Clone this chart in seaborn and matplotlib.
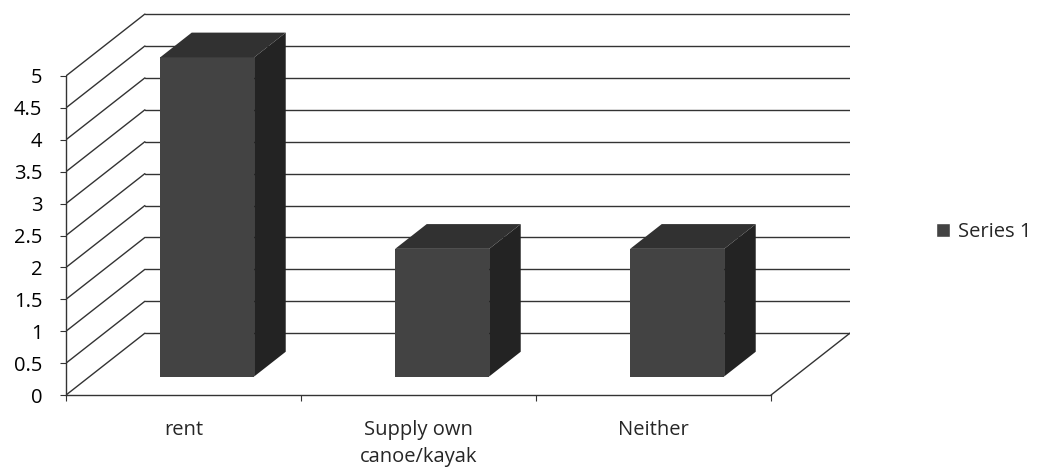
"""
Pseudo-3D column chart: rent / supply own canoe / neither (Series 1).
"""

import numpy as np
import matplotlib
matplotlib.use("Agg")
import matplotlib.pyplot as plt
from matplotlib.patches import Polygon, Patch
import seaborn as sns

# ── Data ───────────────────────────────────────────────────────────────────
CATEGORIES = ["rent", "Supply own\ncanoe/kayak", "Neither"]
VALUES     = [5, 2, 2]
SERIES     = "Series 1"
Y_TICKS    = np.arange(0, 5.01, 0.5)

# ── Look ───────────────────────────────────────────────────────────────────
CLR_FRONT = "#434343"
CLR_SIDE  = "#232323"
CLR_TOP   = "#313131"
CLR_LINE  = "#333333"
DEPTH_DX  = 0.336    # full floor depth, in x data units
DEPTH_DY  = 0.97     # full floor depth, in y data units
BAR_FRONT = 0.30     # where the bar front sits inside the depth
BAR_DEPTH = 0.40     # how deep the bar is
FONT      = ["Open Sans", "DejaVu Sans"]
FS        = 14.5


def draw_walls(ax, n):
    x0, x1 = -0.5, n - 0.5
    for v in Y_TICKS:
        # side wall diagonal + back wall line
        ax.plot([x0, x0 + DEPTH_DX], [v, v + DEPTH_DY],
                color=CLR_LINE, lw=1.0, zorder=1)
        ax.plot([x0 + DEPTH_DX, x1 + DEPTH_DX], [v + DEPTH_DY, v + DEPTH_DY],
                color=CLR_LINE, lw=1.0, zorder=1)
    # right floor edge
    ax.plot([x1, x1 + DEPTH_DX], [0, DEPTH_DY], color=CLR_LINE, lw=1.0, zorder=1)


def extrude_bars(ax):
    ddx, ddy = BAR_DEPTH * DEPTH_DX, BAR_DEPTH * DEPTH_DY
    for p in list(ax.patches):
        p.set_x(p.get_x() + BAR_FRONT * DEPTH_DX)
        p.set_y(BAR_FRONT * DEPTH_DY)
        p.set_zorder(3)
        p.set_linewidth(0)
        x, y, w, h = p.get_x(), p.get_y(), p.get_width(), p.get_height()
        side = [(x + w, y), (x + w + ddx, y + ddy),
                (x + w + ddx, y + h + ddy), (x + w, y + h)]
        top = [(x, y + h), (x + ddx, y + h + ddy),
               (x + w + ddx, y + h + ddy), (x + w, y + h)]
        ax.add_patch(Polygon(side, closed=True, fc=CLR_SIDE, ec="none", zorder=3))
        ax.add_patch(Polygon(top, closed=True, fc=CLR_TOP, ec="none", zorder=3))


def main():
    sns.set_style("white")
    plt.rcParams["font.family"] = FONT

    fig = plt.figure(figsize=(10.37, 4.74), dpi=100)
    ax = fig.add_axes([0.0636, 0.156, 0.756, 0.823])

    sns.barplot(x=CATEGORIES, y=VALUES, width=0.4, color=CLR_FRONT,
                saturation=1, linewidth=0, ax=ax)
    n = len(CATEGORIES)
    extrude_bars(ax)
    draw_walls(ax, n)

    ax.set_xlim(-0.5, n - 0.5 + DEPTH_DX)
    ax.set_ylim(-0.078, 6.034)

    for s in ["top", "right"]:
        ax.spines[s].set_visible(False)
    ax.spines["left"].set_bounds(0, 5)
    ax.spines["bottom"].set_position(("data", 0))
    ax.spines["bottom"].set_bounds(-0.5, n - 0.5)
    for s in ["left", "bottom"]:
        ax.spines[s].set_color(CLR_LINE)
        ax.spines[s].set_linewidth(1.0)

    ax.set_yticks(Y_TICKS)
    ax.set_yticklabels([f"{v:g}" for v in Y_TICKS])
    ax.tick_params(axis="y", length=4, width=0.8, pad=13, labelsize=FS,
                   colors=CLR_LINE, labelcolor="black", left=True)

    ax.set_xticks(range(n))
    ax.set_xticklabels(CATEGORIES, linespacing=1.45)
    ax.set_xticks(np.arange(n + 1) - 0.5, minor=True)
    ax.tick_params(axis="x", which="major", length=0, pad=18, labelsize=FS)
    ax.tick_params(axis="x", which="minor", length=4, width=0.8,
                   colors=CLR_LINE, bottom=True)
    ax.set_xlabel(""); ax.set_ylabel("")

    handle = Patch(facecolor=CLR_FRONT, label=SERIES)
    fig.legend(handles=[handle], loc="center left", bbox_to_anchor=(0.885, 0.51),
               frameon=False, fontsize=FS, handlelength=0.7, handleheight=0.7,
               handletextpad=0.4)

    fig.savefig("out.png", dpi=100, facecolor="white")
    plt.close(fig)


if __name__ == "__main__":
    main()
